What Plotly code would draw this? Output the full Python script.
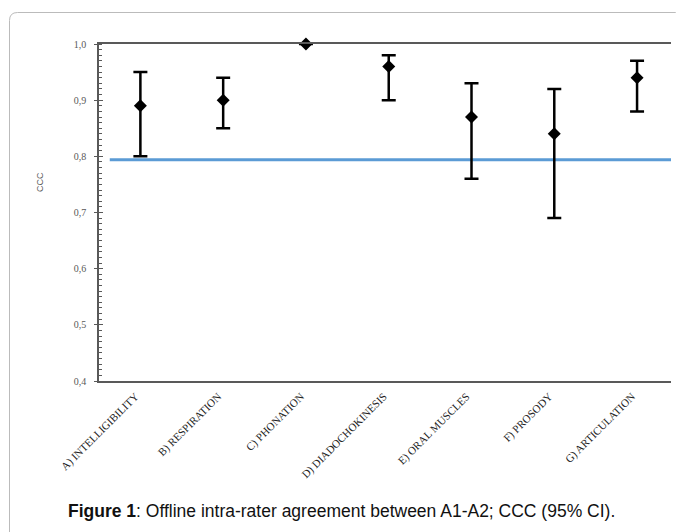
import plotly.graph_objects as go

categories = ["A) INTELLIGIBILITY", "B) RESPIRATION", "C) PHONATION",
              "D) DIADOCHOKINESIS", "E) ORAL MUSCLES", "F) PROSODY",
              "G) ARTICULATION"]
ccc = [0.89, 0.90, 1.00, 0.96, 0.87, 0.84, 0.94]
ci_low = [0.80, 0.85, None, 0.90, 0.76, 0.69, 0.88]
ci_high = [0.95, 0.94, None, 0.98, 0.93, 0.92, 0.97]
threshold = 0.794
y_ticks = [0.4, 0.5, 0.6, 0.7, 0.8, 0.9, 1.0]

# page body adds an 8px margin, so the figure is drawn 8px smaller/shifted
OFF = 8
W, H = 684 - OFF, 532 - OFF
L, R, T = 99 - OFF, 13, 44 - OFF
B = H - (381 - OFF)
PW = W - L - R
PH = H - T - B

def px_x(p):
    return (p - OFF - L) / PW

def px_y(p):
    return (H - B - (p - OFF)) / PH

xi = list(range(len(categories)))
err_plus = [None if h is None else round(h - v, 4) for v, h in zip(ccc, ci_high)]
err_minus = [None if l is None else round(v - l, 4) for v, l in zip(ccc, ci_low)]

fig = go.Figure()
fig.add_trace(go.Scatter(
    x=[-0.37, 6.41], y=[threshold, threshold], mode="lines",
    line=dict(color="#5B9BD5", width=3), hoverinfo="skip", showlegend=False,
    cliponaxis=False))
fig.add_trace(go.Scatter(
    x=xi, y=ccc, mode="markers",
    marker=dict(symbol="diamond", size=10, color="black"),
    error_y=dict(type="data", symmetric=False, array=err_plus,
                 arrayminus=err_minus, color="black", thickness=2.5, width=7),
    cliponaxis=False, showlegend=False))
fig.add_trace(go.Scatter(x=[None], y=[None], yaxis="y2", showlegend=False))

axis_grey = "#595959"
fig.update_layout(
    width=W, height=H,
    margin=dict(l=L, r=R, t=T, b=B),
    paper_bgcolor="white", plot_bgcolor="white",
    separators=",.",
    xaxis=dict(range=[-0.5, 6.41], tickmode="array", tickvals=xi,
               ticktext=categories, tickangle=-45,
               tickfont=dict(family="Liberation Serif", size=11, color="#222"),
               ticklabelshift=-5, ticklabelstandoff=3,
               showgrid=False, zeroline=False, showline=True, mirror=True,
               linecolor=axis_grey, linewidth=1.5, ticks=""),
    yaxis=dict(range=[0.4, 1.0], tickmode="array", tickvals=y_ticks,
               tickformat=".1f", showgrid=False, zeroline=False,
               showline=True, linecolor=axis_grey, linewidth=1.5,
               ticks="outside", ticklen=3, tickwidth=1.2, tickcolor=axis_grey,
               ticklabelstandoff=6,
               tickfont=dict(family="Liberation Serif", size=10, color=axis_grey),
               minor=dict(dtick=0.01, ticks="inside", ticklen=3,
                          tickwidth=1, tickcolor=axis_grey)),
    yaxis2=dict(range=[0.4, 1.0], overlaying="y", side="left",
                tickmode="array", tickvals=y_ticks, showticklabels=False,
                ticks="inside", ticklen=4, tickwidth=1.2, tickcolor=axis_grey,
                showgrid=False, zeroline=False, showline=False),
    font=dict(family="Liberation Sans"),
)

fig.add_annotation(text="CCC", xref="paper", yref="paper",
                   x=px_x(33), y=px_y(182), textangle=-90, showarrow=False,
                   font=dict(family="Liberation Sans", size=9, color=axis_grey))
fig.add_annotation(text="<b>Figure 1</b>: Offline intra-rater agreement between A1-A2; CCC (95% CI).",
                   xref="paper", yref="paper", x=px_x(341), y=px_y(511),
                   showarrow=False, xanchor="center", yanchor="middle",
                   font=dict(family="Liberation Sans", size=17.5, color="#111"))

x0, y0, x1, y1, r = 9.5, 12.5, 683.5, 560, 8
path = (f"M {px_x(x0 + r)} {px_y(y0)} L {px_x(x1 - r)} {px_y(y0)} "
        f"Q {px_x(x1)} {px_y(y0)} {px_x(x1)} {px_y(y0 + r)} "
        f"L {px_x(x1)} {px_y(y1)} L {px_x(x0)} {px_y(y1)} "
        f"L {px_x(x0)} {px_y(y0 + r)} Q {px_x(x0)} {px_y(y0)} {px_x(x0 + r)} {px_y(y0)} Z")
fig.add_shape(type="path", path=path, xref="paper", yref="paper",
              line=dict(color="#BBBBBB", width=1), layer="below")

fig.write_html("out.html")
